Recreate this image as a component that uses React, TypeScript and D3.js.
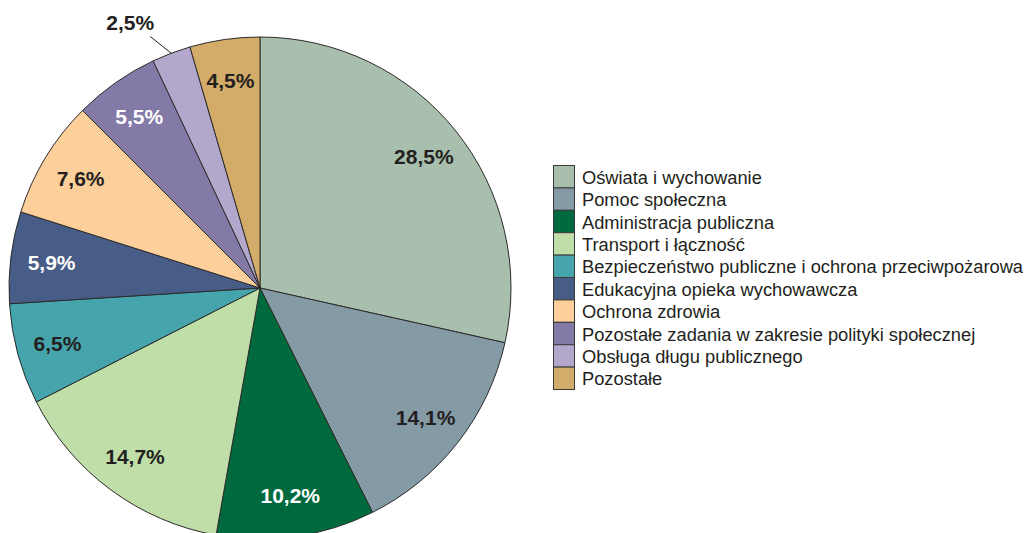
import React, { useEffect, useRef } from 'react';
import * as d3 from 'd3';

// expenditure structure (%)
const categories = [
  'Oświata i wychowanie',
  'Pomoc społeczna',
  'Administracja publiczna',
  'Transport i łączność',
  'Bezpieczeństwo publiczne i ochrona przeciwpożarowa',
  'Edukacyjna opieka wychowawcza',
  'Ochrona zdrowia',
  'Pozostałe zadania w zakresie polityki społecznej',
  'Obsługa długu publicznego',
  'Pozostałe',
];
const values = [28.5, 14.1, 10.2, 14.7, 6.5, 5.9, 7.6, 5.5, 2.5, 4.5];
const colors = [
  '#a8bfad', '#849ba6', '#006a3e', '#bfdea8', '#45a4ac',
  '#475c87', '#fdd09b', '#837aa8', '#b3a8cb', '#d3ac6a',
];
const whiteLabels = [false, false, true, false, false, true, false, true, false, false];
const outsideLabels = [false, false, false, false, false, false, false, false, true, false];

const App = () => {
  const svgRef = useRef<SVGSVGElement>(null);

  useEffect(() => {
    document.body.style.margin = '0';
    const width = 1033;
    const height = 533;
    const cx = 260;
    const cy = 288;
    const radius = 251;

    const svg = d3.select(svgRef.current);
    svg.selectAll('*').remove();
    svg.attr('width', width).attr('height', height);

    const g = svg.append('g').attr('transform', `translate(${cx},${cy})`);

    const pie = d3.pie<number>().sort(null).value((d) => d);
    const arcs = pie(values);
    const arc = d3.arc<d3.PieArcDatum<number>>().innerRadius(0).outerRadius(radius);
    const labelArc = d3.arc<d3.PieArcDatum<number>>().innerRadius(210).outerRadius(210);

    g.selectAll('path.slice')
      .data(arcs)
      .enter()
      .append('path')
      .attr('class', 'slice')
      .attr('d', arc)
      .attr('fill', (d, i) => colors[i])
      .attr('stroke', '#2b2b2b')
      .attr('stroke-width', 1);

    const fmt = (v: number) => v.toFixed(1).replace('.', ',') + '%';

    // inside labels
    g.selectAll('text.lbl')
      .data(arcs.filter((d, i) => !outsideLabels[i]))
      .enter()
      .append('text')
      .attr('class', 'lbl')
      .attr('transform', (d) => `translate(${labelArc.centroid(d)})`)
      .attr('text-anchor', 'middle')
      .attr('dominant-baseline', 'central')
      .attr('font-family', 'Liberation Sans, Arial, sans-serif')
      .attr('font-weight', 'bold')
      .attr('font-size', 21)
      .attr('fill', (d) => (whiteLabels[d.index] ? '#ffffff' : '#231f20'))
      .text((d) => fmt(d.data));

    // outside labels with leader lines
    arcs
      .filter((d, i) => outsideLabels[i])
      .forEach((d) => {
        const a = (d.startAngle + d.endAngle) / 2;
        const p = (r: number) => [Math.sin(a) * r, -Math.cos(a) * r];
        const [x1, y1] = p(radius);
        const [x2, y2] = p(radius + 20);
        g.append('line')
          .attr('x1', x1)
          .attr('y1', y1)
          .attr('x2', x2 - 14)
          .attr('y2', y2 + 2)
          .attr('stroke', '#231f20')
          .attr('stroke-width', 1);
        g.append('text')
          .attr('x', x2 - 34)
          .attr('y', y2 - 12)
          .attr('text-anchor', 'middle')
          .attr('dominant-baseline', 'central')
          .attr('font-family', 'Liberation Sans, Arial, sans-serif')
          .attr('font-weight', 'bold')
          .attr('font-size', 21)
          .attr('fill', '#231f20')
          .text(fmt(d.data));
      });

    // legend
    const legendY = d3.scaleBand().domain(categories).range([165, 389]);
    const legend = svg.append('g');
    categories.forEach((c, i) => {
      const y = legendY(c) as number;
      legend
        .append('rect')
        .attr('x', 553.5)
        .attr('y', y + 0.5)
        .attr('width', 21)
        .attr('height', legendY.bandwidth())
        .attr('fill', colors[i])
        .attr('stroke', '#3a3a3a')
        .attr('stroke-width', 1);
      legend
        .append('text')
        .attr('x', 582)
        .attr('y', y + legendY.bandwidth() / 2 + 1)
        .attr('dominant-baseline', 'central')
        .attr('font-family', 'Liberation Sans, Arial, sans-serif')
        .attr('font-size', 18.3)
        .attr('fill', '#231f20')
        .text(c);
    });
  }, []);

  return <svg ref={svgRef}></svg>;
};

export default App;
